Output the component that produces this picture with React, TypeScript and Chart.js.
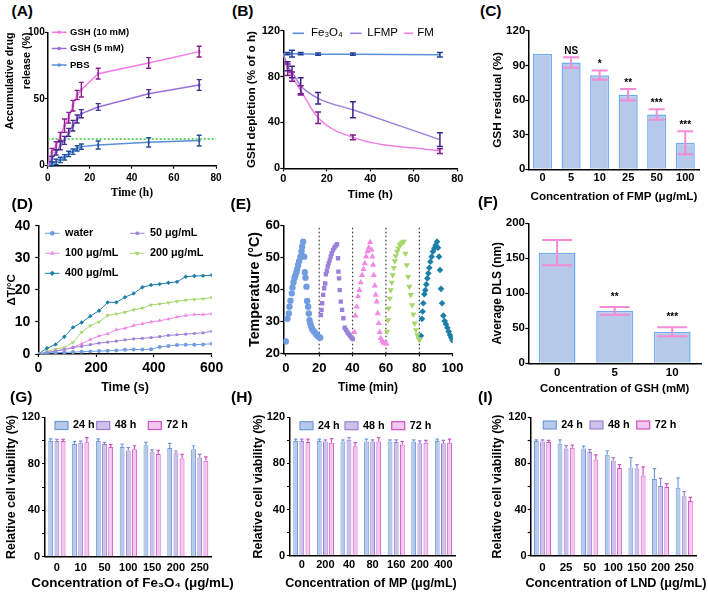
import React, { useEffect, useRef } from 'react';
import { Chart, registerables } from 'chart.js';
import { drawPoint } from 'chart.js/helpers';

Chart.register(...registerables);

/* ===================== DATA ===================== */
// (A) accumulative drug release (%)
const releaseTimes = [0, 2, 4, 6, 8, 10, 12, 14, 16, 24, 48, 72];
const releaseGsh10 = [0, 10, 15, 22, 30, 36, 45, 53, 57, 69, 77, 85.5];
const releaseGsh10Err = [0, 3, 3, 3, 5, 4, 4, 3.5, 5.5, 4, 4, 4];
const releaseGsh5 = [0, 5, 10, 15, 19, 25, 30, 35, 39, 44, 54, 60.5];
const releaseGsh5Err = [0, 2, 2, 3, 3, 3, 4, 3, 3, 2.5, 3, 4];
const releasePbs = [0, 1.3, 2.8, 4.3, 6.3, 8.8, 10.5, 13, 14.3, 15.5, 17.5, 18.8];
const releasePbsErr = [0, 1.5, 2, 2, 2, 2, 2, 2, 2, 3, 3.5, 4];
const releaseLimitX = [0, 80];
const releaseLimitY = [20, 20];
const releaseNames = ['GSH (10 mM)', 'GSH (5 mM)', 'PBS'];

// (B) GSH depletion (% of 0 h)
const depletionTimes = [0, 2, 4, 8, 16, 32, 72];
const depletionFe3O4 = [100, 100, 100, 100, 99.5, 99.5, 99];
const depletionFe3O4Err = [0, 1, 3, 1, 1, 1, 2];
const depletionLfmp = [100, 89, 84, 72, 61, 51, 25];
const depletionLfmpErr = [0, 4, 5, 7, 5, 7, 6];
const depletionFm = [100, 86, 80, 68, 44, 27, 15];
const depletionFmErr = [0, 5, 4, 4, 5, 2, 2];
const depletionNames = ['Fe₃O₄', 'LFMP', 'FM'];

// (C) GSH residual (%)
const fmpConc = ['0', '5', '10', '25', '50', '100'];
const gshResidual = [100, 92.5, 81.5, 64.5, 47.5, 23];
const gshResidualErr = [0, 4.5, 4, 5, 4.5, 10];
const gshResidualSig = ['', 'NS', '*', '**', '***', '***'];

// (D) photothermal heating, ΔT (°C)
const heatTimes = [0, 30, 60, 90, 120, 150, 180, 210, 240, 270, 300, 330, 360, 390, 420, 450, 480, 510, 540, 570, 600];
const heatWater = [0, 0.3, 0.4, 0.5, 0.6, 0.7, 0.8, 0.9, 1.0, 1.1, 1.3, 1.4, 1.4, 1.5, 2.2, 2.5, 2.8, 2.9, 2.9, 3.0, 3.2];
const heat50 = [0, 0.4, 0.9, 1.4, 2.0, 2.4, 2.9, 3.4, 3.7, 4.0, 4.4, 4.7, 4.9, 5.1, 5.4, 5.8, 6.0, 6.2, 6.4, 6.6, 7.1];
const heat100 = [0, 0.5, 1.0, 1.4, 2.1, 3.2, 4.5, 5.6, 6.3, 7.6, 8.0, 8.9, 9.4, 10.0, 10.4, 10.9, 11.5, 12.0, 12.3, 12.3, 12.5];
const heat200 = [0, 0.8, 1.5, 2.0, 3.6, 6.8, 8.8, 10.0, 12.0, 12.5, 13.0, 13.8, 14.3, 15.3, 15.6, 16.0, 16.4, 16.8, 17.0, 17.2, 17.6];
const heat400 = [0, 1.8, 3.0, 5.4, 8.3, 9.8, 11.8, 13.5, 16.1, 16.1, 17.7, 18.9, 20.8, 21.5, 21.8, 22.2, 22.5, 24.1, 24.3, 24.4, 24.6];
const heatNames = ['water', '50 μg/mL', '100 μg/mL', '200 μg/mL', '400 μg/mL'];

// (E) heating / cooling cycles, temperature (°C) vs time (min)
const cycle1Min = [0, 1.0, 1.8, 2.2, 2.8, 3.6, 4.0, 4.6, 5.2, 5.8, 6.4, 6.8, 7.4, 8.0, 8.8, 9.4, 9.8, 10.4, 11.0, 11.4, 11.8, 12.4, 12.8, 13.4, 13.8, 14.2, 14.6, 15.2, 15.8, 16.6, 17.4, 18.2, 19.0, 19.8, 20.6];
const cycle1Temp = [23.7, 30.8, 32.5, 34.6, 36.5, 38.8, 40.6, 42.2, 43.6, 44.5, 45.5, 46.4, 47.7, 48.9, 50.3, 51.9, 53.4, 55.0, 50.3, 45.4, 43.7, 40.9, 36.4, 34.6, 32.5, 30.4, 29.4, 28.4, 27.6, 27.0, 26.5, 26.0, 25.5, 25.1, 24.9];
const cycle2Min = [21.0, 21.4, 21.8, 22.4, 23.0, 23.6, 24.0, 24.6, 25.1, 25.7, 26.3, 26.9, 27.5, 28.3, 29.1, 29.9, 30.7, 31.3, 31.5, 31.9, 32.3, 32.9, 33.7, 34.5, 35.3, 36.1, 36.9, 37.7, 38.5, 39.3, 40.1];
const cycle2Temp = [32.0, 33.6, 35.7, 38.3, 40.4, 41.9, 44.8, 45.8, 47.2, 48.2, 49.2, 50.3, 51.3, 52.4, 53.1, 53.7, 54.2, 49.8, 45.6, 43.5, 39.8, 36.2, 33.6, 31.0, 28.0, 27.3, 26.6, 26.0, 25.5, 24.9, 24.5];
const cycle3Min = [41.1, 41.7, 42.5, 43.3, 44.1, 44.9, 45.7, 46.5, 47.3, 48.1, 48.9, 49.7, 50.5, 51.3, 51.9, 52.3, 52.7, 53.3, 53.9, 54.5, 55.1, 55.7, 56.3, 56.9, 57.7, 58.5, 59.5, 60.3];
const cycle3Temp = [26.6, 31.8, 34.6, 37.8, 39.8, 42.2, 44.5, 46.4, 48.2, 50.3, 51.9, 53.1, 54.8, 52.4, 50.3, 47.7, 44.5, 41.2, 38.3, 36.2, 32.5, 29.4, 26.6, 24.7, 23.9, 23.3, 23.1, 23.0];
const cycle4Min = [60.7, 61.3, 61.7, 62.3, 62.9, 63.5, 64.1, 64.7, 65.3, 65.9, 66.7, 67.5, 68.3, 69.1, 69.9, 70.7, 71.7, 72.5, 73.3, 74.1, 74.9, 75.7, 76.4, 77.2, 78.0, 78.8, 79.6, 80.2];
const cycle4Temp = [26.8, 30.4, 34.1, 37.2, 39.8, 42.2, 44.5, 46.8, 48.9, 50.5, 51.9, 52.9, 53.9, 54.5, 54.8, 55.0, 51.3, 47.7, 44.0, 40.9, 38.3, 35.1, 32.2, 29.4, 27.3, 25.7, 24.5, 24.2];
const cycle5Min = [81.0, 81.6, 82.0, 82.4, 83.0, 83.6, 84.2, 84.8, 85.4, 86.0, 86.6, 87.4, 88.2, 89.0, 89.8, 90.6, 91.2, 91.8, 92.4, 93.0, 93.6, 94.4, 95.2, 96.0, 96.8, 97.6, 98.4, 99.2, 99.8];
const cycle5Temp = [25.5, 30.8, 33.1, 35.7, 38.5, 39.8, 41.6, 43.5, 45.1, 46.8, 48.7, 50.3, 51.9, 52.9, 53.9, 55.0, 53.1, 50.3, 46.1, 40.2, 35.7, 31.8, 30.1, 29.1, 28.0, 26.8, 25.7, 24.9, 24.1];
const cycleBoundaries = [20, 40, 60, 80];
const cycleTempRange = [20, 60];

// (F) average DLS size (nm)
const gshConc = ['0', '5', '10'];
const dlsSize = [158, 75, 45];
const dlsErr = [18, 5.5, 6.5];
const dlsSig = ['', '**', '***'];

// (G) viability vs Fe3O4
const viabilityNames = ['24 h', '48 h', '72 h'];
const fe3o4Conc = ['0', '10', '50', '100', '150', '200', '250'];
const fe3o4Via24 = [99.5, 97, 99.5, 94.5, 96, 93.5, 92.5];
const fe3o4Via48 = [99.5, 98, 97, 91.5, 90, 89, 85.5];
const fe3o4Via72 = [99.5, 98.5, 94.5, 92.5, 88.5, 84.5, 82.5];
const fe3o4Err24 = [2, 2, 2, 2.5, 2.5, 4, 3];
const fe3o4Err48 = [1.5, 1.5, 1.5, 2.5, 2, 2, 2.5];
const fe3o4Err72 = [1.5, 4, 2, 3, 3, 3.5, 3.5];

// (H) viability vs MP
const mpConc = ['0', '200', '40', '80', '160', '200', '400'];
const mpVia24 = [99.5, 99.5, 99, 99, 99, 99, 99.5];
const mpVia48 = [99.5, 99, 100.5, 99, 98.5, 97.5, 97.5];
const mpVia72 = [98.5, 98, 95, 99, 96.5, 98, 98];
const mpErr24 = [1.5, 1.5, 1.5, 2, 1.5, 1.5, 1.5];
const mpErr48 = [1.5, 1.5, 2, 1.5, 2, 2, 2.5];
const mpErr72 = [2.5, 3.5, 3, 3.5, 2.5, 2, 3];

// (I) viability vs LND
const lndConc = ['0', '25', '50', '100', '150', '200', '250'];
const lndVia24 = [99.5, 97, 93, 87.5, 76.5, 66.5, 59];
const lndVia48 = [99, 93, 90, 82.5, 75.5, 60.5, 51.5];
const lndVia72 = [98.5, 93.5, 83.5, 76, 69.5, 59.5, 47.5];
const lndErr24 = [1, 3.5, 2, 3.5, 8.5, 9, 8.5];
const lndErr48 = [1.5, 2.5, 2, 2.5, 3.5, 6.5, 4];
const lndErr72 = [1.5, 2.5, 4, 3, 7.5, 3, 3];

/* ===================== FONTS ===================== */
const SANS = '"Liberation Sans", Arial, Helvetica, sans-serif';
const SERIF = '"Liberation Serif", "Times New Roman", serif';

function hasFont(name: string): boolean {
  try {
    const ctx = document.createElement('canvas').getContext('2d');
    if (!ctx) return false;
    const s = 'Concentration of viability 0123456789';
    ctx.font = 'bold 40px monospace';
    const a = ctx.measureText(s).width;
    ctx.font = `bold 40px "${name}", monospace`;
    const b = ctx.measureText(s).width;
    return Math.abs(a - b) > 1;
  } catch (e) {
    return false;
  }
}
const HAS_NARROW = hasFont('Liberation Sans Narrow');
const NARROW = HAS_NARROW ? `"Liberation Sans Narrow", ${SANS}` : SANS;
const nz = (s: number) => (HAS_NARROW ? s / 0.82 : s);

/* ===================== PLUGINS ===================== */
const errorBarPlugin = {
  id: 'errorBars',
  afterDatasetsDraw(chart: any) {
    const ctx: CanvasRenderingContext2D = chart.ctx;
    chart.data.datasets.forEach((ds: any, di: number) => {
      if (!ds.errors) return;
      const meta = chart.getDatasetMeta(di);
      const ys = chart.scales[meta.yAxisID];
      ctx.save();
      ctx.strokeStyle = ds.errorColor;
      ctx.lineWidth = ds.errorWidth ?? 1.5;
      meta.data.forEach((el: any, i: number) => {
        const e = ds.errors[i];
        if (!e) return;
        const raw = ds.data[i];
        const v = typeof raw === 'number' ? raw : raw.y;
        const x = el.x;
        const yTop = ys.getPixelForValue(v + e);
        const yBot = ds.errorUp ? ys.getPixelForValue(v) : ys.getPixelForValue(v - e);
        const hw = ds.errorCap / 2;
        ctx.beginPath();
        ctx.moveTo(x, yTop);
        ctx.lineTo(x, yBot);
        ctx.moveTo(x - hw, yTop);
        ctx.lineTo(x + hw, yTop);
        if (!ds.errorUp) {
          ctx.moveTo(x - hw, yBot);
          ctx.lineTo(x + hw, yBot);
        }
        ctx.stroke();
      });
      ctx.restore();
    });
  },
};

const sigPlugin = {
  id: 'sigLabels',
  afterDatasetsDraw(chart: any) {
    const ctx: CanvasRenderingContext2D = chart.ctx;
    chart.data.datasets.forEach((ds: any, di: number) => {
      if (!ds.sig) return;
      const meta = chart.getDatasetMeta(di);
      const ys = chart.scales[meta.yAxisID];
      ctx.save();
      ctx.fillStyle = '#000';
      ctx.font = ds.sigFont;
      ctx.textAlign = 'center';
      ctx.textBaseline = 'alphabetic';
      meta.data.forEach((el: any, i: number) => {
        const s = ds.sig[i];
        if (!s) return;
        const v = ds.data[i] + (ds.errors ? ds.errors[i] : 0);
        ctx.fillText(s, el.x, ys.getPixelForValue(v) - ds.sigGap);
      });
      ctx.restore();
    });
  },
};

Chart.register(errorBarPlugin as any, sigPlugin as any);

type Geo = { cx: number; cy: number; cw: number; ch: number; l: number; t: number; r: number; b: number };
type LegendItem = {
  text: string; x: number; y: number; kind: 'line' | 'box'; color: string; fill?: string;
  pointStyle?: string; rotation?: number; radius?: number; sw: number; gap: number; lineWidth?: number;
};
type FreeText = { text: string; x: number; y: number; font: string };

function overlay(g: Geo, font: string, items: LegendItem[], texts: FreeText[] = []) {
  return {
    id: 'panelOverlay',
    afterDraw(chart: any) {
      const ctx: CanvasRenderingContext2D = chart.ctx;
      ctx.save();
      for (const it of items) {
        const x = it.x - g.cx;
        const y = it.y - g.cy;
        if (it.kind === 'box') {
          const h = 8;
          ctx.fillStyle = it.fill || it.color;
          ctx.fillRect(x, y - h / 2, it.sw, h);
          ctx.strokeStyle = it.color;
          ctx.lineWidth = 1.2;
          ctx.strokeRect(x, y - h / 2, it.sw, h);
        } else {
          ctx.strokeStyle = it.color;
          ctx.lineWidth = it.lineWidth ?? 1.5;
          ctx.beginPath();
          ctx.moveTo(x, y);
          ctx.lineTo(x + it.sw, y);
          ctx.stroke();
          if (it.pointStyle) {
            ctx.fillStyle = it.color;
            drawPoint(ctx, { pointStyle: it.pointStyle, radius: it.radius ?? 2.5, rotation: it.rotation ?? 0, borderWidth: 0 } as any, x + it.sw / 2, y);
          }
        }
        ctx.fillStyle = '#000';
        ctx.font = font;
        ctx.textAlign = 'left';
        ctx.textBaseline = 'middle';
        ctx.fillText(it.text, x + it.sw + it.gap, y);
      }
      for (const t of texts) {
        ctx.fillStyle = '#000';
        ctx.font = t.font;
        ctx.textAlign = 'center';
        ctx.textBaseline = 'middle';
        ctx.fillText(t.text, t.x - g.cx, t.y - g.cy);
      }
      ctx.restore();
    },
  };
}

/* ===================== AXES ===================== */
type TitleSpec = { text: string | string[]; size: number; at: number; family?: string; align?: 'center' | 'end'; lh?: number };
type AxisSpec = {
  type: 'linear' | 'category';
  min?: number; max?: number; step?: number; every?: number;
  tickSize: number; tickPad: number; tickMarks?: boolean;
  title?: TitleSpec;
};

function baseAxis(a: AxisSpec) {
  const ticks: any = {
    font: { family: SANS, size: a.tickSize, weight: 'bold' },
    color: '#000', padding: a.tickPad, autoSkip: false, maxRotation: 0, minRotation: 0,
  };
  if (a.type === 'linear') ticks.includeBounds = false;
  if (a.step !== undefined) ticks.stepSize = a.step;
  if (a.every !== undefined) {
    const ev = a.every;
    ticks.callback = (v: any) => (Math.abs(Number(v) % ev) < 1e-6 ? String(v) : '');
  }
  const o: any = {
    type: a.type,
    ticks,
    grid: { display: true, drawOnChartArea: false, drawTicks: a.tickMarks !== false, tickLength: 3, tickWidth: 1.2, tickColor: '#000', offset: false },
    border: { display: true, color: '#000', width: 1.5 },
  };
  if (a.min !== undefined) o.min = a.min;
  if (a.max !== undefined) o.max = a.max;
  return o;
}

function titleOpts(t: TitleSpec, padding: any) {
  const lhm = t.lh ?? 1.2;
  return {
    display: true, text: t.text, color: '#000', align: t.align ?? 'center',
    font: { family: t.family ?? NARROW, size: t.size, weight: 'bold', lineHeight: lhm },
    padding,
  };
}

function yAxis(g: Geo, a: AxisSpec) {
  const o = baseAxis(a);
  const L = g.l - g.cx;
  if (a.title) {
    const lh = a.title.size * (a.title.lh ?? 1.2);
    o.title = titleOpts(a.title, { top: a.title.at - g.cx - lh / 2, bottom: 0 });
  }
  o.afterFit = (s: any) => {
    s.width = L;
    s.paddingTop = 0; s.paddingBottom = 0; s.paddingLeft = 0; s.paddingRight = 0;
  };
  return o;
}

function xAxis(g: Geo, a: AxisSpec) {
  const o = baseAxis(a);
  const B = g.cy + g.ch - g.b;
  if (a.title) {
    const lh = a.title.size * (a.title.lh ?? 1.2);
    o.title = titleOpts(a.title, { top: 0, bottom: g.cy + g.ch - a.title.at - lh / 2 });
  }
  o.afterFit = (s: any) => {
    s.height = B;
    s.paddingTop = 0; s.paddingBottom = 0; s.paddingLeft = 0; s.paddingRight = 0;
  };
  return o;
}

function baseOptions(g: Geo, scales: any) {
  return {
    responsive: false,
    maintainAspectRatio: false,
    animation: false,
    devicePixelRatio: 1,
    events: [],
    layout: { autoPadding: false, padding: { left: 0, bottom: 0, top: g.t - g.cy, right: g.cx + g.cw - g.r } },
    plugins: { legend: { display: false }, tooltip: { enabled: false }, title: { display: false } },
    scales,
  };
}

const pts = (xs: number[], ys: number[]) => xs.map((x, i) => ({ x, y: ys[i] }));

type PanelDef = { g: Geo; build: () => any };

/* ===================== PANELS ===================== */
const panelA: PanelDef = {
  g: { cx: 0, cy: 22, cw: 228, ch: 185, l: 47.7, t: 32.3, r: 216, b: 165.7 },
  build() {
    const g = this.g;
    const colors = ['#f27be9', '#9b6fd8', '#5b8fd6'];
    const errColors = ['#8b1d8c', '#402a8f', '#1e4f9e'];
    const series = [releaseGsh10, releaseGsh5, releasePbs];
    const errs = [releaseGsh10Err, releaseGsh5Err, releasePbsErr];
    const datasets: any[] = series.map((s, i) => ({
      label: releaseNames[i], data: pts(releaseTimes, s), showLine: true,
      borderColor: colors[i], backgroundColor: colors[i], borderWidth: 1.5,
      pointRadius: 1.6, pointBorderWidth: 0,
      errors: errs[i], errorColor: errColors[i], errorCap: 5, errorWidth: 1.4,
    }));
    datasets.push({ label: 'threshold', data: pts(releaseLimitX, releaseLimitY), showLine: true, borderColor: '#3dd03d', borderWidth: 1.6, borderDash: [2, 2], pointRadius: 0 });
    const rows = [32.3, 48.5, 65];
    const items: LegendItem[] = releaseNames.map((n, i) => ({ text: n, x: 51.7, y: rows[i], kind: 'line', color: colors[i], pointStyle: 'circle', radius: 1.8, sw: 15, gap: 3.3 }));
    return {
      type: 'scatter',
      data: { datasets },
      options: baseOptions(g, {
        x: xAxis(g, { type: 'linear', min: 0, max: 80, step: 20, tickSize: 10, tickPad: 3.3, title: { text: 'Time (h)', size: 11.5, at: 193, family: SERIF } }),
        y: yAxis(g, { type: 'linear', min: 0, max: 100, step: 50, tickSize: 10, tickPad: 0, title: { text: ['Accumulative drug', 'release (%)'], size: nz(10.8), at: 10, align: 'end', lh: 17 / nz(10.8) } }),
      }),
      plugins: [overlay(g, `bold ${nz(9.5)}px ${NARROW}`, items)],
    };
  },
};

const panelB: PanelDef = {
  g: { cx: 232, cy: 20, cw: 233, ch: 187, l: 283.3, t: 30.7, r: 457.3, b: 168.3 },
  build() {
    const g = this.g;
    const colors = ['#5b8fd6', '#9d7fdc', '#f27fe8'];
    const errColors = ['#233f95', '#3c1f8c', '#7d1a8c'];
    const series = [depletionFe3O4, depletionLfmp, depletionFm];
    const errs = [depletionFe3O4Err, depletionLfmpErr, depletionFmErr];
    const datasets = series.map((s, i) => ({
      label: depletionNames[i], data: pts(depletionTimes, s), showLine: true,
      borderColor: colors[i], backgroundColor: colors[i], borderWidth: 1.5, pointRadius: 0,
      cubicInterpolationMode: i === 0 ? 'default' : 'monotone',
      errors: errs[i], errorColor: errColors[i], errorCap: 6, errorWidth: 1.5,
    }));
    const lx = [292.7, 350, 404];
    const sw = [11.3, 11.7, 9.3];
    const gap = [7, 5.6, 4];
    const items: LegendItem[] = depletionNames.map((n, i) => ({ text: n, x: lx[i], y: 33.3, kind: 'line', color: colors[i], sw: sw[i], gap: gap[i], lineWidth: 1.6 }));
    return {
      type: 'scatter',
      data: { datasets },
      options: baseOptions(g, {
        x: xAxis(g, { type: 'linear', min: 0, max: 80, step: 20, tickSize: 11, tickPad: 1.2, title: { text: 'Time (h)', size: nz(11.6), at: 195 } }),
        y: yAxis(g, { type: 'linear', min: 0, max: 120, step: 40, tickSize: 11, tickPad: 0.3, title: { text: 'GSH depletion (% of o h)', size: nz(11.7), at: 251.5 } }),
      }),
      plugins: [overlay(g, `11.5px ${SANS}`, items)],
    };
  },
};

const panelC: PanelDef = {
  g: { cx: 468, cy: 20, cw: 240, ch: 187, l: 528.3, t: 30.7, r: 699.5, b: 169.3 },
  build() {
    const g = this.g;
    return {
      type: 'bar',
      data: {
        labels: fmpConc,
        datasets: [{
          label: 'GSH residual', data: gshResidual,
          backgroundColor: '#b7c9e8', borderColor: '#72acf2', borderWidth: 1.5, borderSkipped: 'bottom',
          categoryPercentage: 0.67, barPercentage: 1,
          errors: gshResidualErr, errorColor: '#f38bd6', errorCap: 16, errorWidth: 2,
          sig: gshResidualSig, sigGap: 3.5, sigFont: `bold ${nz(10)}px ${NARROW}`,
        }],
      },
      options: baseOptions(g, {
        x: xAxis(g, { type: 'category', tickSize: 11, tickPad: 1.6, tickMarks: false, title: { text: 'Concentration of FMP (μg/mL)', size: nz(11.65), at: 197 } }),
        y: yAxis(g, { type: 'linear', min: 0, max: 120, step: 30, tickSize: 11.5, tickPad: 0, title: { text: 'GSH residual (%)', size: nz(11.8), at: 498 } }),
      }),
    };
  },
};

const heatColors = ['#6f9de0', '#9d80d8', '#f08ae6', '#a6d66c', '#1b7fa8'];
const heatStyles = ['circle', 'rect', 'triangle', 'triangle', 'rectRot'];
const heatRot = [0, 0, 0, 180, 0];
const heatRadius = [2.4, 2.3, 2.8, 2.8, 2.6];
const cycleRadius = [3.2, 3.1, 3.6, 3.6, 3.3];

const panelD: PanelDef = {
  g: { cx: 0, cy: 212, cw: 228, ch: 188, l: 38.3, t: 225.7, r: 211.7, b: 354 },
  build() {
    const g = this.g;
    const series = [heatWater, heat50, heat100, heat200, heat400];
    const datasets = series.map((s, i) => ({
      label: heatNames[i], data: pts(heatTimes, s), showLine: true,
      borderColor: heatColors[i], backgroundColor: heatColors[i], borderWidth: 1,
      pointStyle: heatStyles[i], pointRotation: heatRot[i], pointRadius: heatRadius[i] - 0.4, pointBorderWidth: 0,
    }));
    const pos = [[45, 233.3], [130, 233.3], [45, 253.3], [130, 253.3], [45, 273.3]];
    const items: LegendItem[] = heatNames.map((n, i) => ({
      text: n, x: pos[i][0], y: pos[i][1], kind: 'line', color: heatColors[i], pointStyle: heatStyles[i], rotation: heatRot[i], radius: heatRadius[i], sw: 14.5, gap: 5.5, lineWidth: 1,
    }));
    return {
      type: 'scatter',
      data: { datasets },
      options: baseOptions(g, {
        x: xAxis(g, { type: 'linear', min: 0, max: 600, step: 200, tickSize: 14, tickPad: 2.9, title: { text: 'Time (s)', size: nz(12.5), at: 388 } }),
        y: yAxis(g, { type: 'linear', min: 0, max: 40, step: 10, tickSize: 14, tickPad: 5, title: { text: 'ΔT/°C', size: nz(11.5), at: 11.7 } }),
      }),
      plugins: [overlay(g, `bold ${nz(10.8)}px ${NARROW}`, items)],
    };
  },
};

const panelE: PanelDef = {
  g: { cx: 232, cy: 212, cw: 233, ch: 188, l: 283.3, t: 225.7, r: 452.7, b: 353.3 },
  build() {
    const g = this.g;
    const mins = [cycle1Min, cycle2Min, cycle3Min, cycle4Min, cycle5Min];
    const temps = [cycle1Temp, cycle2Temp, cycle3Temp, cycle4Temp, cycle5Temp];
    const datasets: any[] = mins.map((m, i) => ({
      label: 'cycle ' + (i + 1), data: pts(m, temps[i]), showLine: false,
      borderColor: heatColors[i], backgroundColor: heatColors[i],
      pointStyle: heatStyles[i], pointRotation: heatRot[i], pointRadius: cycleRadius[i], pointBorderWidth: 0,
    }));
    cycleBoundaries.forEach((bx) => {
      datasets.push({
        label: 'boundary', data: pts([bx, bx], cycleTempRange), showLine: true,
        borderColor: '#333', borderWidth: 1.2, borderDash: [1.5, 2.5], pointRadius: 0,
      });
    });
    return {
      type: 'scatter',
      data: { datasets },
      options: baseOptions(g, {
        x: xAxis(g, { type: 'linear', min: -1.5, max: 100, step: 20, tickSize: 13, tickPad: 3.9, title: { text: 'Time (min)', size: nz(11.9), at: 388 } }),
        y: yAxis(g, { type: 'linear', min: 20, max: 60, step: 10, tickSize: 13, tickPad: 0.3, title: { text: 'Temperature (°C)', size: nz(14.3), at: 255.5 } }),
      }),
    };
  },
};

const panelF: PanelDef = {
  g: { cx: 468, cy: 212, cw: 240, ch: 188, l: 528.3, t: 223.3, r: 701, b: 363.3 },
  build() {
    const g = this.g;
    return {
      type: 'bar',
      data: {
        labels: gshConc,
        datasets: [{
          label: 'DLS', data: dlsSize,
          backgroundColor: '#b7c9e8', borderColor: '#72acf2', borderWidth: 1.5, borderSkipped: 'bottom',
          categoryPercentage: 0.64, barPercentage: 1,
          errors: dlsErr, errorColor: '#f38bd6', errorCap: 30, errorWidth: 2,
          sig: dlsSig, sigGap: 7, sigFont: `bold ${nz(10)}px ${NARROW}`,
        }],
      },
      options: baseOptions(g, {
        x: xAxis(g, { type: 'category', tickSize: 11.5, tickPad: 3, tickMarks: false, title: { text: 'Concentration of GSH (mM)', size: nz(11.4), at: 388.5 } }),
        y: yAxis(g, { type: 'linear', min: 0, max: 200, step: 50, tickSize: 11.5, tickPad: 0.3, title: { text: 'Average DLS (nm)', size: nz(11.9), at: 497.5 } }),
      }),
    };
  },
};

const viaFill = ['#b7c9ea', '#cdc1ea', '#f3c8ee'];
const viaBorder = ['#6f9bd8', '#9c80d4', '#d052c4'];

function viabilityPanel(o: {
  g: Geo; labels: string[]; vals: number[][]; errs: number[][]; xTitle: string; xTitleSize: number; xTitleX: number;
  yTitleX: number; tickSize: number; tickPad: number; yPad: number; legendX: number[]; legendY: number;
}): PanelDef {
  return {
    g: o.g,
    build() {
      const g = o.g;
      const datasets = o.vals.map((v, i) => ({
        label: viabilityNames[i], data: v,
        backgroundColor: viaFill[i], borderColor: viaBorder[i], borderWidth: 1, borderSkipped: 'bottom',
        categoryPercentage: 0.78, barPercentage: 0.78,
        errors: o.errs[i], errorUp: true, errorColor: viaBorder[i], errorCap: 3.5, errorWidth: 1.2,
      }));
      const items: LegendItem[] = viabilityNames.map((n, i) => ({ text: n, x: o.legendX[i], y: o.legendY, kind: 'box', color: viaBorder[i], fill: viaFill[i], sw: 13, gap: 5 }));
      const texts: FreeText[] = [{ text: o.xTitle, x: o.xTitleX, y: 583.5, font: `bold ${nz(o.xTitleSize)}px ${NARROW}` }];
      return {
        type: 'bar',
        data: { labels: o.labels, datasets },
        options: baseOptions(g, {
          x: xAxis(g, { type: 'category', tickSize: o.tickSize, tickPad: o.tickPad, tickMarks: false }),
          y: yAxis(g, { type: 'linear', min: 0, max: 120, step: 20, every: 40, tickSize: 11, tickPad: o.yPad, title: { text: 'Relative cell viability (%)', size: nz(12.4), at: o.yTitleX } }),
        }),
        plugins: [overlay(g, `bold ${nz(10.8)}px ${NARROW}`, items, texts)],
      };
    },
  };
}

const panelG = viabilityPanel({
  g: { cx: 0, cy: 405, cw: 236, ch: 187, l: 45, t: 417.3, r: 211.6, b: 556.7 },
  labels: fe3o4Conc, vals: [fe3o4Via24, fe3o4Via48, fe3o4Via72], errs: [fe3o4Err24, fe3o4Err48, fe3o4Err72],
  xTitle: 'Concentration of Fe₃O₄ (μg/mL)', xTitleSize: 13.4, xTitleX: 132.5, yTitleX: 11.7,
  tickSize: 11, tickPad: 5, yPad: 2, legendX: [55, 96.7, 148.3], legendY: 425.5,
});
const panelH = viabilityPanel({
  g: { cx: 236, cy: 405, cw: 232, ch: 187, l: 290, t: 417.3, r: 455.2, b: 555.7 },
  labels: mpConc, vals: [mpVia24, mpVia48, mpVia72], errs: [mpErr24, mpErr48, mpErr72],
  xTitle: 'Concentration of MP (μg/mL)', xTitleSize: 12.5, xTitleX: 371, yTitleX: 259,
  tickSize: 11, tickPad: 2.7, yPad: 2, legendX: [300, 345, 391.7], legendY: 425.7,
});
const panelI = viabilityPanel({
  g: { cx: 468, cy: 405, cw: 240, ch: 187, l: 530.7, t: 417.3, r: 696, b: 555.7 },
  labels: lndConc, vals: [lndVia24, lndVia48, lndVia72], errs: [lndErr24, lndErr48, lndErr72],
  xTitle: 'Concentration of LND (μg/mL)', xTitleSize: 12.7, xTitleX: 616, yTitleX: 498,
  tickSize: 11.5, tickPad: 5, yPad: 1, legendX: [543.3, 590, 636.7], legendY: 425,
});

const PANELS: PanelDef[] = [panelA, panelB, panelC, panelD, panelE, panelF, panelG, panelH, panelI];

const LETTERS: { t: string; x: number; y: number }[] = [
  { t: '(A)', x: 11.5, y: 11 }, { t: '(B)', x: 232, y: 11 }, { t: '(C)', x: 480, y: 11 },
  { t: '(D)', x: 11.5, y: 204 }, { t: '(E)', x: 230.5, y: 204 }, { t: '(F)', x: 478, y: 202 },
  { t: '(G)', x: 10, y: 397 }, { t: '(H)', x: 231, y: 397 }, { t: '(I)', x: 478, y: 397 },
];

function Panel({ def }: { def: PanelDef }) {
  const ref = useRef<HTMLCanvasElement | null>(null);
  useEffect(() => {
    const c = ref.current;
    if (!c) return;
    const chart = new Chart(c, def.build() as any);
    return () => chart.destroy();
  }, [def]);
  const g = def.g;
  return (
    <canvas
      ref={ref}
      width={g.cw}
      height={g.ch}
      style={{ position: 'absolute', left: g.cx, top: g.cy, width: g.cw, height: g.ch }}
    />
  );
}

export default function App() {
  return (
    <div style={{ position: 'absolute', left: 0, top: 0, width: 708, height: 592, background: '#fff', overflow: 'hidden' }}>
      {PANELS.map((p, i) => (
        <Panel key={i} def={p} />
      ))}
      {LETTERS.map((l) => (
        <div
          key={l.t}
          style={{
            position: 'absolute', left: l.x, top: l.y - 9, height: 18, lineHeight: '18px',
            font: `bold 15.5px ${SANS}`, color: '#000', whiteSpace: 'nowrap',
          }}
        >
          {l.t}
        </div>
      ))}
    </div>
  );
}
